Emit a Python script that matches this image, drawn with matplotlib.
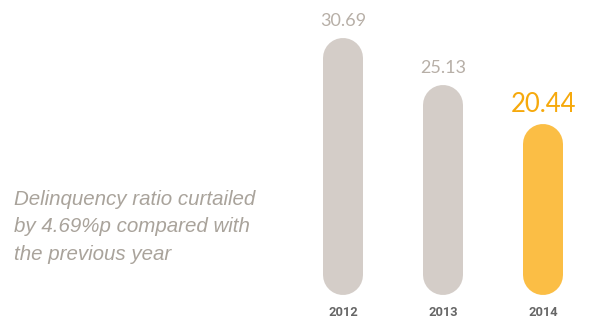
import matplotlib
matplotlib.use("Agg")
import matplotlib.pyplot as plt

years = ["2012", "2013", "2014"]
values = [30.69, 25.13, 20.44]
value_labels = ["30.69", "25.13", "20.44"]
bar_colors = ["#d4cdc8", "#d4cdc8", "#fbbe45"]
label_colors = ["#b7afa7", "#b7afa7", "#f6a90c"]
label_sizes = [13, 13, 18.5]
note = "Delinquency ratio curtailed\nby 4.69%p compared with\nthe previous year"

W, H, DPI = 599, 322, 100
fig = plt.figure(figsize=(W / DPI, H / DPI), dpi=DPI)
ax = fig.add_axes([0, 0, 1, 1])
ax.set_axis_off()

px_per_x = 100.0
px_per_y = 8.37
x0_px = 343.0
y0_px = 27.0  # zero line, pixels from bottom
ax.set_xlim(-x0_px / px_per_x, (W - x0_px) / px_per_x)
ax.set_ylim(-y0_px / px_per_y, (H - y0_px) / px_per_y)

bar_w_px = 40.0
r = (bar_w_px / 2) / px_per_y  # cap radius in data units
lw_pt = bar_w_px * 72 / DPI

for i, (v, c) in enumerate(zip(values, bar_colors)):
    ax.plot([i, i], [r, v - r], color=c, lw=lw_pt, solid_capstyle="round")
    ax.annotate(value_labels[i], (i, v), xytext=(0, 12 * 72 / DPI), textcoords="offset points",
                ha="center", va="baseline", fontsize=label_sizes[i], color=label_colors[i],
                family="Lato")
    ax.annotate(years[i], (i, 0), xytext=(0, -17 * 72 / DPI), textcoords="offset points",
                ha="center", va="center", fontsize=9.3, color="#666666",
                family="Roboto", fontweight="bold")

fig.text(14 / W, 1 - 190 / H, note, ha="left", va="top", fontsize=14.8, style="italic",
         color="#a9a39b", family="Liberation Sans", linespacing=1.55)

fig.savefig("out.png", dpi=DPI)
